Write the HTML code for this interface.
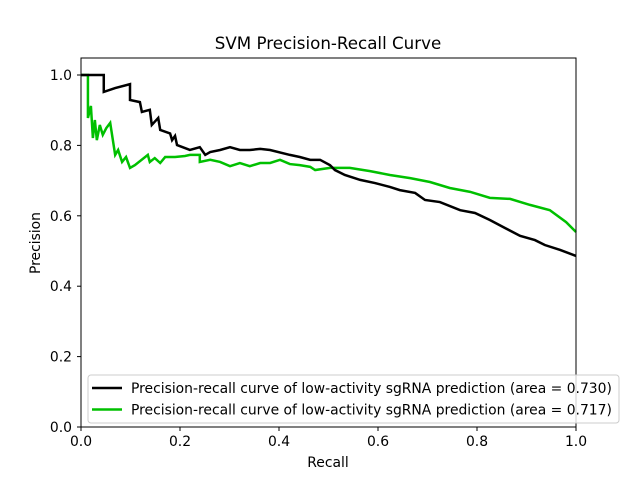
<!DOCTYPE html>
<html><head><meta charset="utf-8"><style>
body{margin:0;background:#fff;}
svg text{font-family:"DejaVu Sans","Liberation Sans",sans-serif;}
</style></head><body>
<svg id="chart" width="640" height="480" xmlns="http://www.w3.org/2000/svg">
<rect width="640" height="480" fill="#fff"/>
<text x="328" y="49" font-size="16.7" text-anchor="middle">SVM Precision-Recall Curve</text>
<g id="ticks"></g>
<g id="series"></g>
<rect x="81" y="58" width="495" height="369" fill="none" stroke="#000" stroke-width="1"/>
<text x="328" y="467" font-size="13.9" text-anchor="middle">Recall</text>
<text x="40" y="243" font-size="13.9" text-anchor="middle" transform="rotate(-90 40 243)">Precision</text>
<g>
<rect x="88" y="375" width="531" height="48" rx="3" fill="#fff" fill-opacity="0.8" stroke="#ccc"/>
<line x1="92" y1="388" x2="122" y2="388" stroke="#000" stroke-width="2.5"/>
<text x="131" y="393" font-size="13.9">Precision-recall curve of low-activity sgRNA prediction (area = 0.730)</text>
<line x1="92" y1="409.5" x2="122" y2="409.5" stroke="#00c000" stroke-width="2.5"/>
<text x="131" y="414.5" font-size="13.9">Precision-recall curve of low-activity sgRNA prediction (area = 0.717)</text>
</g>
</svg>
<script>
const xTicks=[0,0.2,0.4,0.6,0.8,1.0];
const yTicks=[0,0.2,0.4,0.6,0.8,1.0];
const blackRecall=[0,.046,.046,.069,.099,.099,.119,.123,.139,.143,.156,.160,.180,.184,.190,.194,.220,.240,.251,.261,.281,.301,.321,.341,.362,.382,.422,.442,.463,.483,.503,.513,.533,.564,.594,.624,.644,.675,.695,.725,.766,.796,.826,.857,.887,.917,.937,.968,1];
const blackPrecision=[1,1,.952,.963,.974,.929,.923,.895,.901,.858,.878,.844,.834,.815,.827,.801,.787,.795,.773,.781,.787,.795,.787,.787,.790,.787,.773,.767,.759,.759,.744,.730,.716,.702,.693,.682,.673,.665,.645,.639,.616,.608,.588,.565,.543,.531,.517,.503,.486];
const greenRecall=[0,.014,.014,.020,.024,.028,.032,.038,.044,.051,.059,.069,.075,.083,.091,.099,.109,.135,.139,.149,.160,.170,.190,.210,.220,.240,.240,.261,.281,.301,.321,.341,.362,.382,.402,.422,.442,.463,.473,.503,.543,.584,.624,.665,.705,.745,.786,.826,.867,.907,.947,.980,1];
const greenPrecision=[1,1,.878,.912,.821,.872,.815,.858,.830,.849,.864,.773,.787,.753,.767,.736,.744,.773,.753,.764,.750,.767,.767,.770,.773,.773,.753,.759,.753,.741,.750,.741,.750,.750,.759,.747,.744,.739,.730,.736,.736,.727,.716,.707,.696,.679,.668,.651,.648,.631,.616,.582,.554,.537];
const X=v=>81+v*495, Y=v=>427-v*352;
const ns="http://www.w3.org/2000/svg";
const tg=document.getElementById('ticks');
xTicks.forEach(t=>{
 const l=document.createElementNS(ns,'line');
 l.setAttribute('x1',X(t));l.setAttribute('x2',X(t));l.setAttribute('y1',427);l.setAttribute('y2',431);l.setAttribute('stroke','#000');
 
 
 tg.appendChild(l);
 const tx=document.createElementNS(ns,'text');
 tx.setAttribute('x',X(t));tx.setAttribute('y',446);tx.setAttribute('font-size','13.9');tx.setAttribute('text-anchor','middle');
 tx.textContent=t.toFixed(1);
 
 
 tg.appendChild(tx);
});
yTicks.forEach(t=>{
 const l=document.createElementNS(ns,'line');
 l.setAttribute('x1',77);l.setAttribute('x2',81);l.setAttribute('y1',Y(t));l.setAttribute('y2',Y(t));l.setAttribute('stroke','#000');
 
 
 tg.appendChild(l);
 const tx=document.createElementNS(ns,'text');
 tx.setAttribute('x',72);tx.setAttribute('y',Y(t)+5);tx.setAttribute('font-size','13.9');tx.setAttribute('text-anchor','end');
 tx.textContent=t.toFixed(1);
 
 
 tg.appendChild(tx);
});
const sg=document.getElementById('series');
function draw(xs,ys,color,name){
 const p=document.createElementNS(ns,'polyline');
 p.setAttribute('points',xs.map((x,i)=>X(x)+','+Y(ys[i])).join(' '));
 p.setAttribute('fill','none');p.setAttribute('stroke',color);p.setAttribute('stroke-width','2.5');p.setAttribute('stroke-linejoin','miter');
 
 
 sg.appendChild(p);
}
draw(greenRecall,greenPrecision,'#00c000','pr-curve-green');
draw(blackRecall,blackPrecision,'#000','pr-curve-black');
</script>
</body></html>
